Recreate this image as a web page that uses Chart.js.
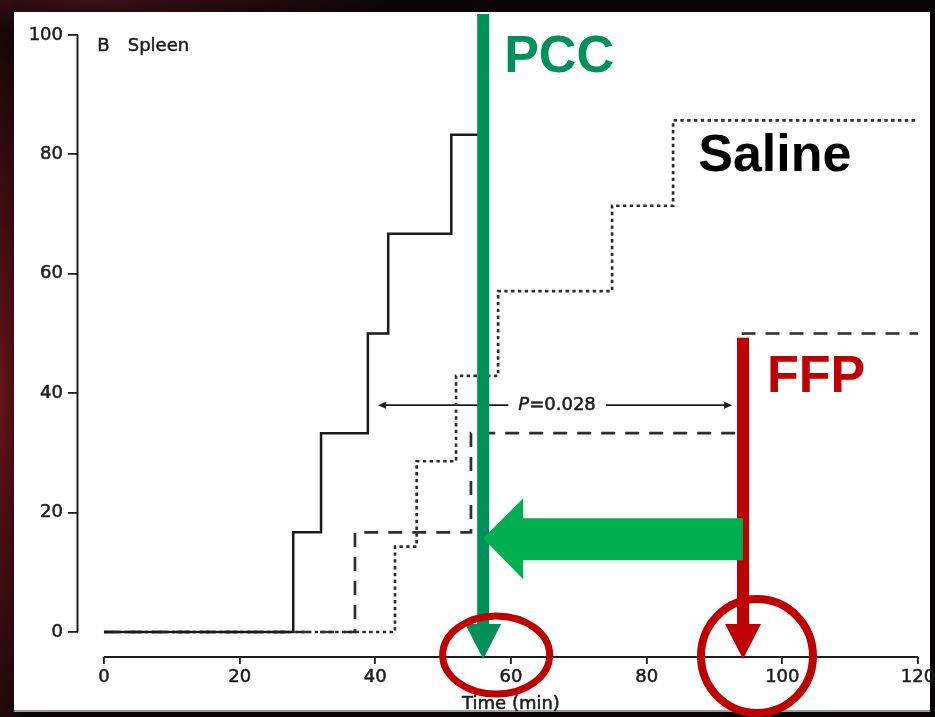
<!DOCTYPE html>
<html>
<head>
<meta charset="utf-8">
<title>Spleen – cumulative hemostasis</title>
<script src="https://cdn.jsdelivr.net/npm/chart.js@4/dist/chart.umd.min.js"></script>
<style>
  html, body { margin: 0; padding: 0; width: 935px; height: 717px; overflow: hidden; }
  body {
    background:
      radial-gradient(ellipse 40px 420px at 0 55%, rgba(110, 22, 26, 0.9), rgba(0,0,0,0) 100%),
      radial-gradient(ellipse 300px 30px at 10% 0, rgba(70, 18, 24, 0.8), rgba(0,0,0,0) 100%),
      #0b0507;
    position: relative;
  }
  #panel {
    position: absolute; left: 14px; top: 12px; width: 916px; height: 698px;
    background: #ffffff; border-bottom: 2px solid #9c9c9c;
  }
  #chart { position: absolute; left: 0; top: 0; }
</style>
</head>
<body>
<div id="panel"></div>
<canvas id="chart" width="935" height="717"></canvas>
<script>
// Time to hemostasis (min) and cumulative percentage for each treatment arm
const pccTimes    = [0, 27.9, 32.0, 38.9, 41.9, 51.2, 55.8];
const pccPct      = [0, 16.7, 33.3, 50.0, 66.7, 83.3, 83.3];
const ffpTimes    = [0, 37.0, 54.1, 94.2, 120];
const ffpPct      = [0, 16.7, 33.3, 50.0, 50.0];
const salineTimes = [0, 42.9, 46.1, 51.9, 58.1, 74.9, 83.9, 120];
const salinePct   = [0, 14.3, 28.6, 42.9, 57.1, 71.4, 85.7, 85.7];

const xTicks = [0, 20, 40, 60, 80, 100, 120];
const yTicks = [0, 20, 40, 60, 80, 100];

// Log-rank comparison bar (from ~40 to ~93 min, drawn at 38 %)
const pBar = { from: 40.4, to: 92.6, level: 38, text: '0.028' };
// Treatment markers: PCC and FFP median times
const pccMark = 55.9;
const ffpMark = 94.2;

const toPoints = (xs, ys) => xs.map((t, i) => ({ x: t, y: ys[i] }));

const ink = '#1c1c1c';
const smallFont = '18px "DejaVu Sans", sans-serif';
const bigFont = 'bold 52px "Liberation Sans", Arial, sans-serif';
const pccGreen = '#00915a';
const arrowGreen = '#00b050';
const ffpRed = '#c00000';

// fill plus a hairline stroke so the small text reads as heavy as printed type
function inkText(ctx, s, px, py) {
  ctx.fillText(s, px, py);
  ctx.strokeText(s, px, py);
}

const decorations = {
  id: 'decorations',
  beforeDatasetsDraw(chart) {
    const { ctx, chartArea, scales: { x, y } } = chart;
    ctx.save();
    ctx.strokeStyle = ink;
    ctx.lineWidth = 2;
    ctx.beginPath();
    // offset axis lines, spanning only the tick range
    ctx.moveTo(chartArea.left - 0.5, y.getPixelForValue(0));
    ctx.lineTo(chartArea.left - 0.5, y.getPixelForValue(100));
    ctx.moveTo(x.getPixelForValue(0), chartArea.bottom);
    ctx.lineTo(x.getPixelForValue(120), chartArea.bottom);
    ctx.stroke();

    ctx.fillStyle = ink;
    ctx.lineWidth = 0.5;
    ctx.font = smallFont;
    ctx.textBaseline = 'alphabetic';
    ctx.textAlign = 'left';
    inkText(ctx, 'B', x.getPixelForValue(-1), y.getPixelForValue(97.3));
    inkText(ctx, 'Spleen', x.getPixelForValue(3.5), y.getPixelForValue(97.3));

    ctx.textAlign = 'center';
    ctx.textBaseline = 'middle';
    inkText(ctx, 'Time (min)', (x.getPixelForValue(0) + x.getPixelForValue(120)) / 2, chartArea.bottom + 47);

    // P-value bar with arrowheads at both ends
    const py = y.getPixelForValue(pBar.level);
    const x1 = x.getPixelForValue(pBar.from);
    const x2 = x.getPixelForValue(pBar.to);
    const cx = (x1 + x2) / 2 + 2;
    ctx.font = 'italic ' + smallFont;
    const wP = ctx.measureText('P').width;
    ctx.font = smallFont;
    const wRest = ctx.measureText('=' + pBar.text).width;
    const tStart = cx - (wP + wRest) / 2;
    const tEnd = tStart + wP + wRest;
    ctx.textAlign = 'left';
    ctx.font = 'italic ' + smallFont;
    inkText(ctx, 'P', tStart, py);
    ctx.font = smallFont;
    inkText(ctx, '=' + pBar.text, tStart + wP, py);
    ctx.lineWidth = 1.8;
    ctx.beginPath();
    ctx.moveTo(x1 + 4, py); ctx.lineTo(tStart - 10, py);
    ctx.moveTo(tEnd + 10, py); ctx.lineTo(x2 - 4, py);
    ctx.stroke();
    ctx.beginPath();
    ctx.moveTo(x1, py); ctx.lineTo(x1 + 8, py - 3.5); ctx.lineTo(x1 + 8, py + 3.5); ctx.closePath();
    ctx.moveTo(x2, py); ctx.lineTo(x2 - 8, py - 3.5); ctx.lineTo(x2 - 8, py + 3.5); ctx.closePath();
    ctx.fill();
    ctx.restore();
  },
  afterDraw(chart) {
    const { ctx, chartArea, scales: { x, y } } = chart;
    const gx = x.getPixelForValue(pccMark);
    const rx = x.getPixelForValue(ffpMark);
    const tipY = chartArea.bottom + 2;
    ctx.save();

    // PCC marker: vertical bar ending in a downward arrowhead
    ctx.fillStyle = pccGreen;
    ctx.fillRect(gx - 6, 14, 12, tipY - 34 - 14);
    ctx.beginPath();
    ctx.moveTo(gx - 18, tipY - 35); ctx.lineTo(gx + 18, tipY - 35); ctx.lineTo(gx, tipY); ctx.closePath();
    ctx.fill();

    // FFP marker
    ctx.fillStyle = ffpRed;
    const rTop = y.getPixelForValue(49.3);
    ctx.fillRect(rx - 6, rTop, 12, tipY - 34 - rTop);
    ctx.beginPath();
    ctx.moveTo(rx - 18, tipY - 35); ctx.lineTo(rx + 18, tipY - 35); ctx.lineTo(rx, tipY); ctx.closePath();
    ctx.fill();

    // time-saving arrow from FFP back to PCC
    const ay = y.getPixelForValue(15.7);
    ctx.fillStyle = arrowGreen;
    ctx.beginPath();
    ctx.moveTo(gx, ay);
    ctx.lineTo(gx + 40, ay - 40);
    ctx.lineTo(gx + 40, ay - 20);
    ctx.lineTo(rx, ay - 20);
    ctx.lineTo(rx, ay + 22);
    ctx.lineTo(gx + 40, ay + 22);
    ctx.lineTo(gx + 40, ay + 41);
    ctx.closePath();
    ctx.fill();

    // circles around both arrow tips
    ctx.strokeStyle = ffpRed;
    ctx.lineWidth = 7;
    ctx.beginPath();
    ctx.ellipse(gx + 13, chartArea.bottom - 2, 53.5, 39, 0, 0, Math.PI * 2);
    ctx.stroke();
    ctx.lineWidth = 8;
    ctx.beginPath();
    ctx.ellipse(rx + 14, chartArea.bottom - 1, 56, 57, 0, 0, Math.PI * 2);
    ctx.stroke();

    // group labels
    ctx.font = bigFont;
    ctx.textAlign = 'left';
    ctx.textBaseline = 'alphabetic';
    ctx.fillStyle = pccGreen;
    ctx.fillText('PCC', gx + 21, 72);
    ctx.fillStyle = '#000000';
    ctx.fillText('Saline', x.getPixelForValue(87.6), y.getPixelForValue(77.2));
    ctx.fillStyle = ffpRed;
    ctx.fillText('FFP', rx + 24, y.getPixelForValue(40.2));
    ctx.restore();
  }
};

const lineBase = { pointRadius: 0, pointHoverRadius: 0, stepped: 'before', tension: 0, fill: false, borderCapStyle: 'butt' };
const tickFont = { family: 'DejaVu Sans', size: 18 };

new Chart(document.getElementById('chart'), {
  type: 'line',
  data: {
    datasets: [
      Object.assign({ label: 'PCC', data: toPoints(pccTimes, pccPct), borderColor: '#1a1a1a', borderWidth: 2.5 }, lineBase),
      Object.assign({ label: 'FFP', data: toPoints(ffpTimes, ffpPct), borderColor: '#2e2e2e', borderWidth: 2.7, borderDash: [14, 10] }, lineBase),
      Object.assign({ label: 'Saline', data: toPoints(salineTimes, salinePct), borderColor: '#2e2e2e', borderWidth: 2.7, borderDash: [3.4, 3.4] }, lineBase)
    ]
  },
  options: {
    responsive: false,
    animation: false,
    devicePixelRatio: 1,
    layout: { padding: { left: 0, top: 35, right: 17, bottom: 0 } },
    plugins: { legend: { display: false }, tooltip: { enabled: false } },
    scales: {
      x: {
        type: 'linear',
        min: -3.83,
        max: 120,
        afterBuildTicks: s => { s.ticks = xTicks.map(v => ({ value: v })); },
        afterFit: s => { s.height = 60; s.paddingLeft = 0; s.paddingRight = 0; },
        border: { display: false },
        grid: { drawOnChartArea: false, drawTicks: true, tickLength: 7, color: ink, lineWidth: 1.8 },
        ticks: { autoSkip: false, maxRotation: 0, padding: 3, color: ink, textStrokeColor: ink, textStrokeWidth: 0.5, font: tickFont }
      },
      y: {
        min: -4.19,
        max: 100,
        afterBuildTicks: s => { s.ticks = yTicks.map(v => ({ value: v })); },
        afterFit: s => { s.width = 78; s.paddingTop = 0; s.paddingBottom = 0; },
        border: { display: false },
        grid: { drawOnChartArea: false, drawTicks: true, tickLength: 10, color: ink, lineWidth: 1.8 },
        ticks: { autoSkip: false, padding: 5, color: ink, textStrokeColor: ink, textStrokeWidth: 0.5, font: tickFont }
      }
    }
  },
  plugins: [decorations]
});
</script>
</body>
</html>
